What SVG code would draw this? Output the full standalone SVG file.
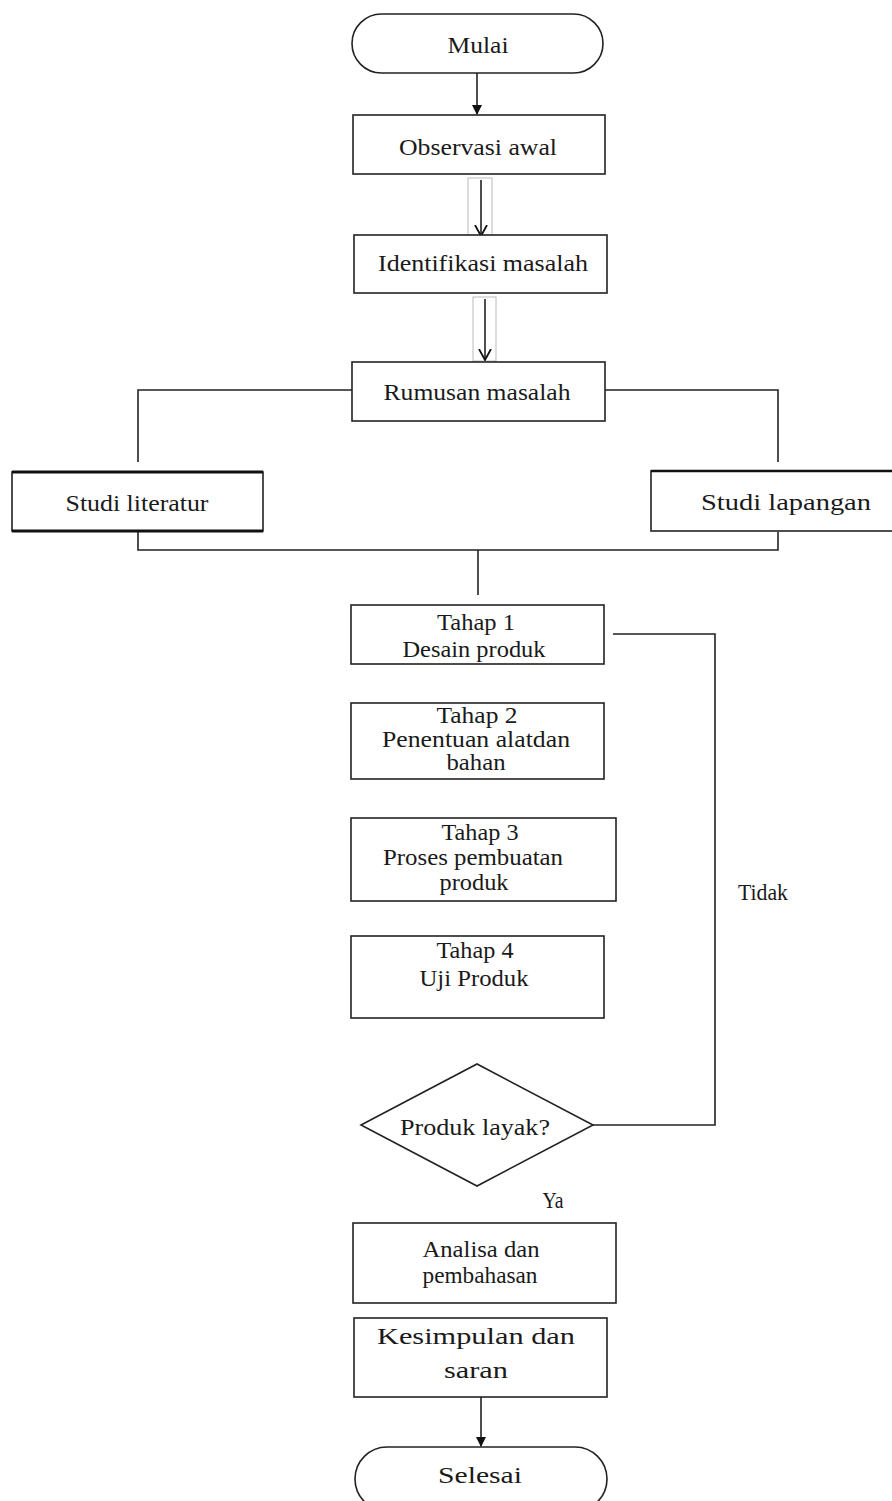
<svg xmlns="http://www.w3.org/2000/svg" width="892" height="1501" viewBox="0 0 892 1501">
<defs>
<style>
.b{fill:#fff;stroke:#222;stroke-width:1.6}
.t{font-family:"Liberation Serif","Times New Roman",serif;font-size:24px;fill:#1a1a1a;text-anchor:middle}
.c{fill:none;stroke:#222;stroke-width:1.6}
.g{fill:none;stroke:#aaa;stroke-width:0.8}
</style>
<marker id="ah" markerWidth="10" markerHeight="10" refX="9" refY="5" orient="auto" markerUnits="userSpaceOnUse">
<path d="M0,0 L10,5 L0,10 Z" fill="#111"/>
</marker>
<marker id="av" markerWidth="12" markerHeight="14" refX="11" refY="7" orient="auto" markerUnits="userSpaceOnUse">
<path d="M0,1 L11,7 L0,13" fill="none" stroke="#111" stroke-width="1.8"/>
</marker>
</defs>
<rect width="892" height="1501" fill="#fff"/>

<g id="connectors">
<line class="c" x1="477" y1="73" x2="477" y2="114" marker-end="url(#ah)"/>
<rect class="g" x="468" y="178" width="24" height="60"/>
<line class="c" x1="481" y1="180" x2="481" y2="236" marker-end="url(#av)"/>
<rect class="g" x="473" y="297" width="23" height="64"/>
<line class="c" x1="485" y1="299" x2="485" y2="360" marker-end="url(#av)"/>
<polyline class="c" points="352,390 138,390 138,462"/>
<polyline class="c" points="605,390 778,390 778,462"/>
<polyline class="c" points="138,525 138,550 778,550 778,532"/>
<line class="c" x1="478" y1="550" x2="478" y2="595"/>
<polyline class="c" points="613,634 715,634 715,1125 593,1125"/>
<line class="c" x1="481" y1="1397" x2="481" y2="1446" marker-end="url(#ah)"/>
<text class="t" x="763" y="900" textLength="50" lengthAdjust="spacingAndGlyphs">Tidak</text>
<text class="t" x="553" y="1208" textLength="21" lengthAdjust="spacingAndGlyphs">Ya</text>
</g>

<g id="mulai">
<rect class="b" x="352" y="14" width="251" height="59" rx="29.5"/>
<text class="t" x="478" y="53" textLength="61" lengthAdjust="spacingAndGlyphs">Mulai</text>
</g>
<g id="observasi">
<rect class="b" x="353" y="115" width="252" height="59"/>
<text class="t" x="478" y="155" textLength="158" lengthAdjust="spacingAndGlyphs">Observasi awal</text>
</g>
<g id="identifikasi">
<rect class="b" x="354" y="235" width="253" height="58"/>
<text class="t" x="483" y="271" textLength="210" lengthAdjust="spacingAndGlyphs">Identifikasi masalah</text>
</g>
<g id="rumusan">
<rect class="b" x="352" y="362" width="253" height="59"/>
<text class="t" x="477" y="400" textLength="187" lengthAdjust="spacingAndGlyphs">Rumusan masalah</text>
</g>
<g id="studi-literatur">
<rect class="b" x="12" y="472" width="251" height="59"/>
<line x1="12" y1="472" x2="263" y2="472" stroke="#111" stroke-width="3"/>
<line x1="12" y1="531" x2="263" y2="531" stroke="#111" stroke-width="3"/>
<text class="t" x="137" y="511" textLength="143" lengthAdjust="spacingAndGlyphs">Studi literatur</text>
</g>
<g id="studi-lapangan">
<rect class="b" x="651" y="471" width="245" height="60"/>
<line x1="651" y1="471" x2="892" y2="471" stroke="#111" stroke-width="2.4"/>
<text class="t" x="786" y="510" textLength="170" lengthAdjust="spacingAndGlyphs">Studi lapangan</text>
</g>
<g id="tahap1">
<rect class="b" x="351" y="605" width="253" height="59" stroke-width="2.2"/>
<text class="t" x="476" y="630" textLength="78" lengthAdjust="spacingAndGlyphs">Tahap 1</text>
<text class="t" x="474" y="657" textLength="143" lengthAdjust="spacingAndGlyphs">Desain produk</text>
</g>
<g id="tahap2">
<rect class="b" x="351" y="703" width="253" height="76" stroke-width="2.2"/>
<text class="t" x="477" y="723" textLength="81" lengthAdjust="spacingAndGlyphs">Tahap 2</text>
<text class="t" x="476" y="747" textLength="188" lengthAdjust="spacingAndGlyphs">Penentuan alatdan</text>
<text class="t" x="476" y="770" textLength="59" lengthAdjust="spacingAndGlyphs">bahan</text>
</g>
<g id="tahap3">
<rect class="b" x="351" y="818" width="265" height="83"/>
<text class="t" x="480" y="840" textLength="77" lengthAdjust="spacingAndGlyphs">Tahap 3</text>
<text class="t" x="473" y="865" textLength="180" lengthAdjust="spacingAndGlyphs">Proses pembuatan</text>
<text class="t" x="474" y="890" textLength="69" lengthAdjust="spacingAndGlyphs">produk</text>
</g>
<g id="tahap4">
<rect class="b" x="351" y="936" width="253" height="82" stroke-width="2.2"/>
<text class="t" x="475" y="958" textLength="77" lengthAdjust="spacingAndGlyphs">Tahap 4</text>
<text class="t" x="474" y="986" textLength="109" lengthAdjust="spacingAndGlyphs">Uji Produk</text>
</g>
<g id="produk-layak">
<polygon class="b" points="361,1125 477,1064 593,1125 477,1186"/>
<text class="t" x="475" y="1135" textLength="150" lengthAdjust="spacingAndGlyphs">Produk layak?</text>
</g>
<g id="analisa">
<rect class="b" x="353" y="1223" width="263" height="80"/>
<text class="t" x="481" y="1257" textLength="117" lengthAdjust="spacingAndGlyphs">Analisa dan</text>
<text class="t" x="480" y="1283" textLength="115" lengthAdjust="spacingAndGlyphs">pembahasan</text>
</g>
<g id="kesimpulan">
<rect class="b" x="354" y="1318" width="253" height="79" stroke-width="2"/>
<text class="t" x="476" y="1344" font-size="27" textLength="198" lengthAdjust="spacingAndGlyphs">Kesimpulan dan</text>
<text class="t" x="476" y="1378" font-size="27" textLength="64" lengthAdjust="spacingAndGlyphs">saran</text>
</g>
<g id="selesai">
<rect class="b" x="355" y="1447" width="252" height="64" rx="32"/>
<text class="t" x="480" y="1483" font-size="30" textLength="84" lengthAdjust="spacingAndGlyphs">Selesai</text>
</g>
</svg>
